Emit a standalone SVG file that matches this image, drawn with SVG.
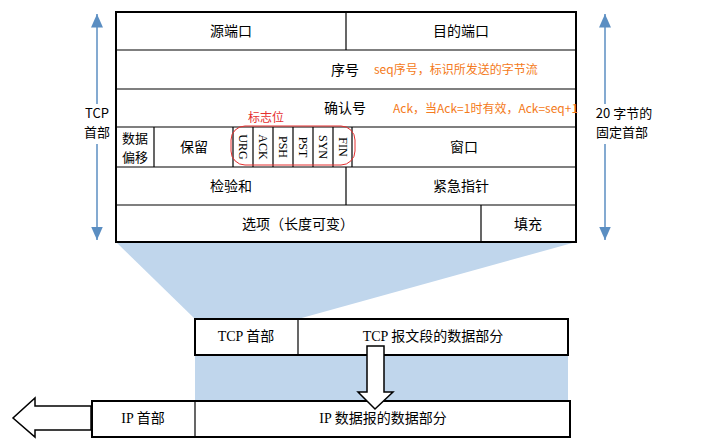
<svg xmlns="http://www.w3.org/2000/svg" width="711" height="439" viewBox="0 0 711 439">
<style>
.c{fill:#fff;stroke:#000;stroke-width:2}
.l{stroke:#000;stroke-width:1.2}
.t{font-family:"Noto Sans CJK SC",sans-serif;font-size:14px;text-anchor:middle;fill:#000}
.m{font-family:"Noto Sans CJK SC",sans-serif;font-size:13px;text-anchor:middle;fill:#000}
.s{font-family:"Liberation Serif","Noto Sans CJK SC",serif;font-size:14px;text-anchor:middle;fill:#000}
.f{font-family:"Liberation Serif",serif;font-size:12px;text-anchor:middle}
.o{font-family:"Noto Sans CJK SC",sans-serif;font-size:12px;fill:#f47a20}
.a{stroke:#5b8ec2;stroke-width:1.5}
</style>
<defs><marker id="ah" markerWidth="10" markerHeight="10" refX="9" refY="5" orient="auto-start-reverse"><path d="M0,1 L9,5 L0,9 z" fill="#5b8ec2"/></marker></defs>
<polygon points="116,242 576,242 298,319 195,319" fill="#c0d6ec"/>
<rect x="195" y="355" width="373" height="46" fill="#c0d6ec"/>
<g id="header">
<rect x="116" y="12" width="460" height="230" class="c"/>
<line class="l" x1="116" y1="50" x2="576" y2="50"/><line class="l" x1="116" y1="89" x2="576" y2="89"/>
<line class="l" x1="116" y1="127" x2="576" y2="127"/><line class="l" x1="116" y1="167" x2="576" y2="167"/>
<line class="l" x1="116" y1="205" x2="576" y2="205"/>
<line class="l" x1="346" y1="12" x2="346" y2="50"/><line class="l" x1="346" y1="167" x2="346" y2="205"/>
<line class="l" x1="481" y1="205" x2="481" y2="242"/>
<line class="l" x1="154" y1="127" x2="154" y2="167"/><line class="l" x1="233" y1="127" x2="233" y2="167"/>
<line class="l" x1="253" y1="127" x2="253" y2="167"/><line class="l" x1="273" y1="127" x2="273" y2="167"/>
<line class="l" x1="293" y1="127" x2="293" y2="167"/><line class="l" x1="313" y1="127" x2="313" y2="167"/>
<line class="l" x1="333" y1="127" x2="333" y2="167"/><line class="l" x1="352" y1="127" x2="352" y2="167"/>
<text class="t" x="231" y="36">源端口</text><text class="t" x="461" y="36">目的端口</text>
<text class="t" x="345" y="75">序号</text><text class="t" x="345" y="113">确认号</text>
<text class="m" x="135" y="143">数据</text><text class="m" x="135" y="162">偏移</text>
<text class="t" x="194" y="152">保留</text><text class="t" x="464" y="152">窗口</text>
<text class="t" x="231" y="191">检验和</text><text class="t" x="461" y="191">紧急指针</text>
<text class="t" x="298" y="229">选项（长度可变）</text><text class="t" x="528" y="229">填充</text>
<g class="f">
<text transform="translate(239,147) rotate(90)">URG</text><text transform="translate(259,147) rotate(90)">ACK</text>
<text transform="translate(279,147) rotate(90)">PSH</text><text transform="translate(299,147) rotate(90)">PST</text>
<text transform="translate(319,147) rotate(90)">SYN</text><text transform="translate(339,147) rotate(90)">FIN</text>
</g>
<rect x="231" y="126" width="124" height="39" rx="14" fill="none" stroke="#e53030" stroke-width="1"/>
<text x="248" y="122" font-family="Noto Sans CJK SC,sans-serif" font-size="12" fill="#e53030">标志位</text>
<text class="o" x="374" y="74">seq序号，标识所发送的字节流</text>
<text class="o" x="393" y="113">Ack，当Ack=1时有效，Ack=seq+1</text>
</g>
<g id="sides">
<line class="a" x1="97" y1="14" x2="97" y2="240" marker-start="url(#ah)" marker-end="url(#ah)"/>
<rect x="80" y="104" width="34" height="40" fill="#fff"/>
<text class="m" x="97" y="118">TCP</text><text class="m" x="97" y="137">首部</text>
<line class="a" x1="605" y1="14" x2="605" y2="240" marker-start="url(#ah)" marker-end="url(#ah)"/>
<rect x="588" y="104" width="66" height="40" fill="#fff"/>
<text class="m" x="624" y="118">20 字节的</text><text class="m" x="622" y="137">固定首部</text>
</g>
<g id="tcp">
<rect x="195" y="319" width="373" height="36" class="c"/><line class="l" x1="298" y1="319" x2="298" y2="355" stroke-width="1.5"/>
<text class="s" x="246" y="341">TCP 首部</text><text class="s" x="433" y="341">TCP 报文段的数据部分</text>
</g>
<g id="ip">
<rect x="92" y="401" width="478" height="36" class="c"/><line class="l" x1="195" y1="401" x2="195" y2="437" stroke-width="1.5"/>
<text class="s" x="143" y="423">IP 首部</text><text class="s" x="383" y="423">IP 数据报的数据部分</text>
</g>
<g id="connectors" fill="#fff" stroke="#000" stroke-width="1.5">
<path d="M367,346 H384 V392 H393 L375,409 L358,392 H367 Z"/>
<path d="M91,406 H35 V398 L13,418 L35,437 V430 H91 Z"/>
</g>
</svg>
